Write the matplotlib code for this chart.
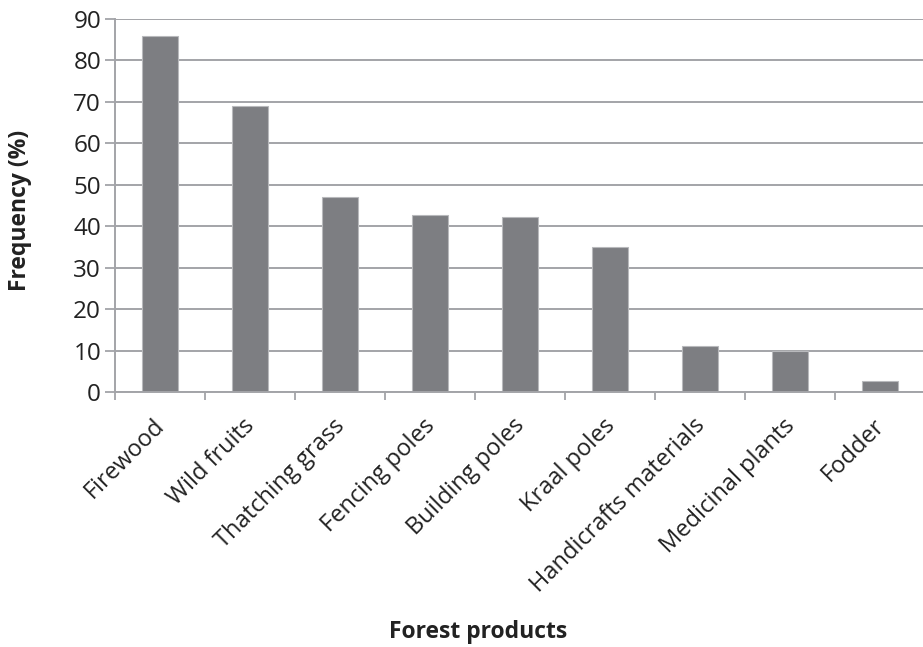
import matplotlib
matplotlib.use("Agg")
import matplotlib.pyplot as plt
import matplotlib.transforms as mtransforms
import numpy as np

products = ["Firewood", "Wild fruits", "Thatching grass", "Fencing poles",
            "Building poles", "Kraal poles", "Handicrafts materials",
            "Medicinal plants", "Fodder"]
frequency = [86, 69, 47, 42.6, 42.2, 35, 11, 10, 2.7]
yticks = [0, 10, 20, 30, 40, 50, 60, 70, 80, 90]

plt.rcParams['font.family'] = ['Open Sans', 'DejaVu Sans']

grid_col = '#a3a4a8'
bar_col = '#7d7e82'
text_col = '#222222'

fig = plt.figure(figsize=(9.23, 6.47), dpi=100)
ax = fig.add_axes([115 / 923, (647 - 392) / 647, 810 / 923, 373 / 647])

x = np.arange(len(products))
ax.bar(x, frequency, width=0.4, color=bar_col, edgecolor='#b8b9bc',
       linewidth=0.8, zorder=3)

ax.set_xlim(-0.5, len(products) - 0.5)
ax.set_ylim(0, 90)
ax.set_yticks(yticks)
ax.yaxis.grid(True, color=grid_col, linewidth=1.4, zorder=0)

# category labels on major ticks, tick marks on the boundaries
ax.set_xticks(x)
ax.set_xticklabels(products, rotation=45, ha='right', va='top',
                   rotation_mode='anchor', fontsize=17, color=text_col)
ax.set_xticks(np.arange(len(products) + 1) - 0.5, minor=True)
ax.tick_params(axis='x', which='major', length=0, pad=12)
ax.tick_params(axis='x', which='minor', length=6, width=1.3, color=grid_col)
ax.tick_params(axis='y', length=7, width=1.3, color=grid_col, labelsize=17.5,
               labelcolor=text_col, pad=3)

# nudge the slanted labels a little left and down
shift = mtransforms.ScaledTranslation(-7 / 100, -5 / 100, fig.dpi_scale_trans)
for lbl in ax.get_xticklabels():
    lbl.set_transform(lbl.get_transform() + shift)

for side in ['top', 'right']:
    ax.spines[side].set_visible(False)
for side in ['left', 'bottom']:
    ax.spines[side].set_color(grid_col)
    ax.spines[side].set_linewidth(1.4)
    ax.spines[side].set_zorder(4)

fig.text(20 / 923, 1 - 210 / 647, "Frequency (%)", fontsize=16.5,
         fontweight='bold', rotation=90, ha='center', va='center',
         color=text_col)
fig.text(478 / 923, 1 - 632 / 647, "Forest products", fontsize=16.5,
         fontweight='bold', ha='center', va='center', color=text_col)

fig.savefig("out.png", dpi=100)
